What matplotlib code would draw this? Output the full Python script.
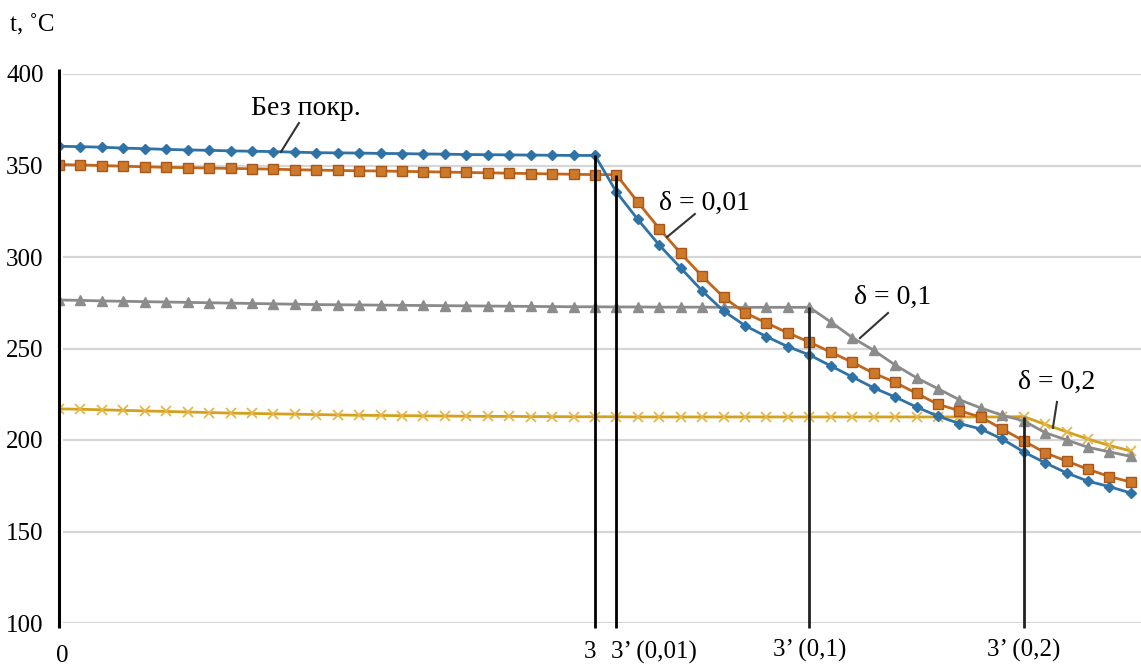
import numpy as np
import matplotlib
matplotlib.use("Agg")
import matplotlib.pyplot as plt

plt.rcParams["font.family"] = ["Liberation Serif", "DejaVu Serif"]

# --- data: temperature (deg C) at 51 points along the section ---
x = np.arange(51)

no_coat = [360.5, 360.3, 360.0, 359.5, 359.2, 358.8, 358.5, 358.3, 358.0, 357.8,
           357.6, 357.3, 357.0, 356.9, 356.8, 356.6, 356.5, 356.3, 356.2, 356.0,
           355.9, 355.8, 355.7, 355.6, 355.5, 355.5, 335.5, 320.5, 306.5, 294.0,
           281.5, 270.5, 262.5, 256.5, 251.0, 246.5, 240.5, 234.5, 228.5, 223.5,
           218.0, 213.0, 209.0, 206.0, 200.5, 193.5, 187.5, 182.0, 177.5, 174.5,
           171.0]

d001 = [350.5, 350.3, 350.0, 349.6, 349.3, 349.0, 348.8, 348.6, 348.4, 348.2,
        348.0, 347.7, 347.5, 347.3, 347.1, 347.0, 346.8, 346.6, 346.4, 346.2,
        346.0, 345.8, 345.6, 345.4, 345.2, 345.0, 345.0, 330.0, 315.5, 302.0,
        289.5, 278.0, 269.5, 264.0, 258.5, 253.5, 248.0, 242.5, 236.5, 231.5,
        225.5, 219.5, 216.0, 212.5, 206.0, 199.5, 193.0, 188.5, 184.0, 180.0,
        177.0]

d01 = [276.5, 276.3, 276.0, 275.8, 275.6, 275.4, 275.2, 275.0, 274.8, 274.6,
       274.4, 274.2, 274.0, 273.9, 273.8, 273.7, 273.6, 273.5, 273.4, 273.3,
       273.2, 273.1, 273.0, 272.9, 272.8, 272.8, 272.7, 272.7, 272.6, 272.6,
       272.6, 272.5, 272.5, 272.5, 272.5, 272.5, 264.5, 256.0, 249.0, 241.0,
       234.0, 228.0, 222.0, 217.5, 213.5, 210.5, 204.0, 200.0, 196.0, 193.5,
       191.0]

d02 = [217.0, 216.8, 216.5, 216.2, 215.9, 215.6, 215.3, 215.0, 214.7, 214.5,
       214.3, 214.1, 213.9, 213.7, 213.5, 213.4, 213.3, 213.2, 213.1, 213.0,
       212.9, 212.9, 212.8, 212.8, 212.7, 212.7, 212.7, 212.6, 212.6, 212.6,
       212.6, 212.6, 212.6, 212.6, 212.6, 212.6, 212.6, 212.6, 212.6, 212.6,
       212.6, 212.6, 212.6, 212.6, 212.6, 212.8, 208.5, 204.5, 200.5, 197.0,
       194.0]

y_ticks = [100, 150, 200, 250, 300, 350, 400]

# break points: (index, curve the drop line goes up to, label)
i3, i001, i01, i02 = 25, 26, 35, 45

fig = plt.figure(figsize=(11.41, 6.65), dpi=100)
ax = fig.add_axes([59 / 1141, 42 / 665, 1082 / 1141, 549 / 665])
ax.set_xlim(0, 50.47)
ax.set_ylim(100, 400)
for s in ax.spines.values():
    s.set_visible(False)
ax.set_xticks([])
ax.set_yticks(y_ticks)
ax.set_yticklabels([str(v) for v in y_ticks], fontsize=18)
ax.tick_params(axis="y", length=0, pad=11)

# grid
ax.hlines(y_ticks, 0.2, 50.47, color="#d6d6d6", lw=1.6, zorder=1)

# curves
ax.plot(x, d02, color="#d4a11e", lw=2, marker="x", ms=7, mew=1.3,
        mec="#e6b64a", zorder=3)
ax.plot(x, d01, color="#8a8a8a", lw=2, marker="^", ms=7.5,
        mfc="#8c8c8c", mec="#8c8c8c", zorder=3)
ax.plot(x, d001, color="#c2661c", lw=2, marker="s", ms=6.5,
        mfc="#cc7a2a", mec="#a9561a", zorder=4)
ax.plot(x, no_coat, color="#2f72a6", lw=2, marker="D", ms=5,
        mfc="#2f72a6", mec="#2f72a6", zorder=5)

# vertical axis line and drop lines to the break points
ax.vlines(0, 97, 402.5, color="black", lw=2.2, clip_on=False, zorder=6)
ax.vlines([i3, i001, i01, i02],
          97.3,
          [no_coat[i3], d001[i001], d01[i01], d02[i02]],
          colors=["black", "black", "#222222", "#222222"],
          lw=2, clip_on=False, zorder=6)

# x labels under the lines
tr = ax.get_xaxis_transform()
ax.text(0.15, -0.06, "0", transform=tr, ha="center", va="center", fontsize=18)
ax.text(i3 + 0.05, -0.053, "3", transform=tr, ha="right", va="center", fontsize=18)
ax.text(i001 - 0.25, -0.053, "3\u2019 (0,01)", transform=tr, ha="left",
        va="center", fontsize=18)
ax.text(i01, -0.05, "3\u2019 (0,1)", transform=tr, ha="center", va="center",
        fontsize=18)
ax.text(i02, -0.05, "3\u2019 (0,2)", transform=tr, ha="center", va="center",
        fontsize=18)

# curve labels with leader lines
labels = [
    ("Без покр.", (11.52, 381.4), (11.19, 373.2), (10.35, 357.4)),
    ("\u03b4 = 0,01", (30.13, 329.5), (29.66, 323.5), (28.36, 310.9)),
    ("\u03b4 = 0,1", (38.9, 278.1), (38.67, 269.4), (37.36, 255.7)),
    ("\u03b4 = 0,2", (46.55, 231.7), (46.55, 220.8), (46.36, 206.6)),
]
for txt, tpos, p0, p1 in labels:
    ax.text(tpos[0], tpos[1], txt, ha="center", va="center", fontsize=20,
            zorder=7)
    ax.plot([p0[0], p1[0]], [p0[1], p1[1]], color="#333333", lw=1.5,
            zorder=7)

fig.text(10 / 1141, 1 - 25 / 665, "t, \u02daC", ha="left", va="center",
         fontsize=18)

fig.savefig("out.png", dpi=100)
